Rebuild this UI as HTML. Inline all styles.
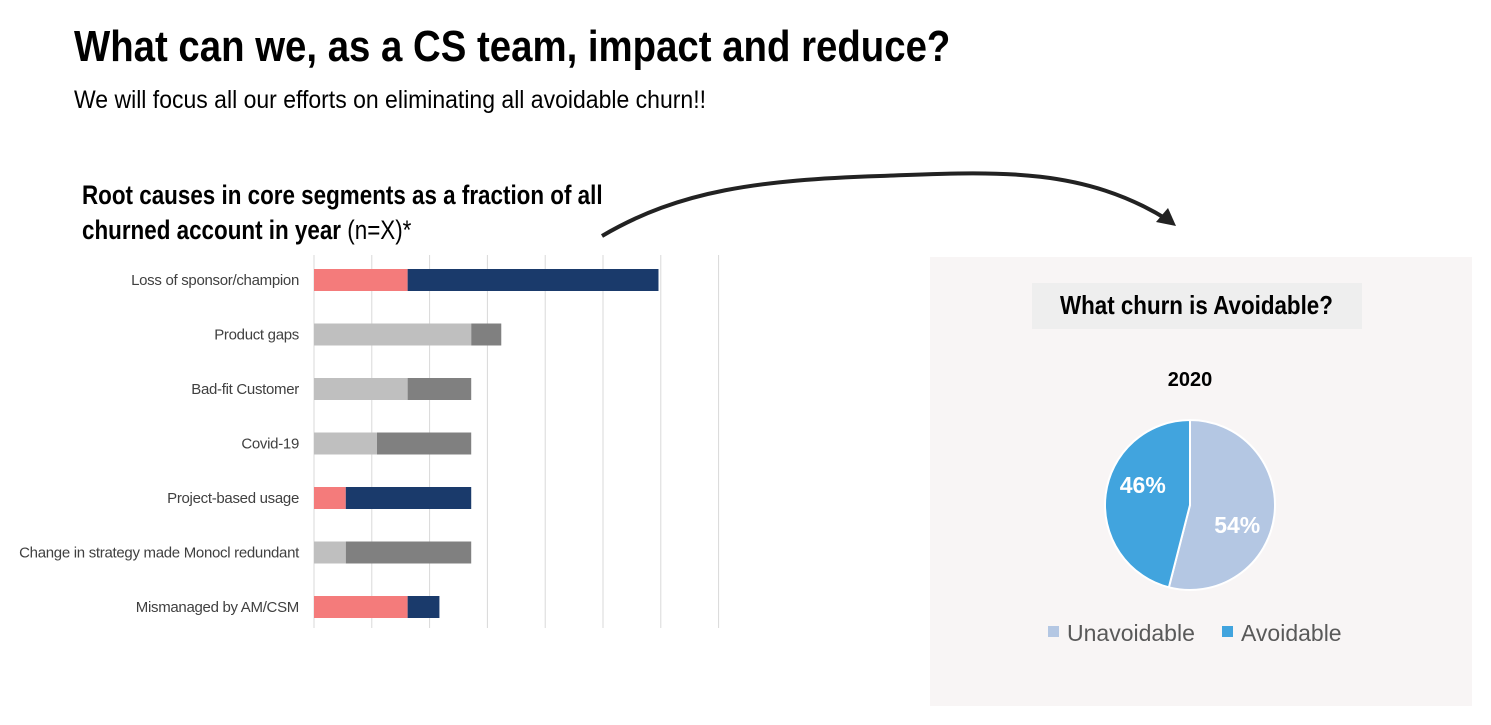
<!DOCTYPE html>
<html><head><meta charset="utf-8"><style>
body{margin:0;width:1491px;height:725px;background:#fff;overflow:hidden;position:relative;font-family:"Liberation Sans Narrow","Liberation Sans",sans-serif}
.t{position:absolute;white-space:nowrap;transform-origin:0 0}
</style></head><body>
<div class="t" style="left:74px;top:22px;font-size:44px;font-weight:bold;transform:scaleX(0.872)">What can we, as a CS team, impact and reduce?</div>
<div class="t" style="left:74px;top:86px;font-size:25px;transform:scaleX(0.92)">We will focus all our efforts on eliminating all avoidable churn!!</div>
<div class="t" style="left:82px;top:178px;font-size:27px;font-weight:bold;line-height:35px;transform:scaleX(0.83)">Root causes in core segments as a fraction of all<br>churned account in year <span style="font-weight:normal">(n=X)*</span></div>
<div style="position:absolute;left:930px;top:257px;width:542px;height:449px;background:#f8f5f5"></div>
<div style="position:absolute;left:1032px;top:283px;width:330px;height:46px;background:#eeeeee"></div>
<div class="t" style="left:1060px;top:290px;font-size:26px;font-weight:bold;transform:scaleX(0.86)">What churn is Avoidable?</div>
<svg id="svg" width="1491" height="725" style="position:absolute;left:0;top:0">
<path d="M602 236 C680 190 760 180 880 176 C990 172 1080 165 1168 220" fill="none" stroke="#222" stroke-width="4"/>
<path d="M1176 226 L1156 222 L1168 208 Z" fill="#222"/>
</svg>
<script>
const categories=["Loss of sponsor/champion","Product gaps","Bad-fit Customer","Covid-19","Project-based usage","Change in strategy made Monocl redundant","Mismanaged by AM/CSM"];
const firstSeg=[1.62,2.72,1.62,1.09,0.55,0.55,1.62];
const secondSeg=[4.34,0.52,1.10,1.63,2.17,2.17,0.55];
const avoidable=[true,false,false,false,true,false,true];
const gridTicks=[0,1,2,3,4,5,6,7];
const pieLabels=["Unavoidable","Avoidable"];
const pieValues=[54,46];
const NS="http://www.w3.org/2000/svg",svg=document.getElementById('svg');
const FF='Liberation Sans Narrow,Liberation Sans,sans-serif';
const x0=314,unit=57.8,yTop=255,yBot=628,band=54.5,y1=280;
const xs=v=>x0+v*unit;
function mk(t,a){const e=document.createElementNS(NS,t);for(const k in a)e.setAttribute(k,a[k]);svg.appendChild(e);return e;}
gridTicks.forEach(g=>{const l=mk('line',{x1:xs(g),x2:xs(g),y1:yTop,y2:yBot,stroke:'#d9d9d9','stroke-width':1});

});
categories.forEach((c,i)=>{const cy=y1+i*band;
const a=mk('rect',{x:xs(0),y:cy-11,width:firstSeg[i]*unit,height:22,fill:avoidable[i]?'#f47b7b':'#bfbfbf'});


const b=mk('rect',{x:xs(firstSeg[i]),y:cy-11,width:secondSeg[i]*unit,height:22,fill:avoidable[i]?'#1a3a6b':'#808080'});


const t=mk('text',{x:299,y:cy+5,'text-anchor':'end','font-size':15,fill:'#404040','font-family':FF,'letter-spacing':'-0.3'});t.textContent=c;

});
const cx=1190,cy=505,r=85,pc=['#b4c7e3','#41a4de'];let ang=0;const tot=pieValues.reduce((s,v)=>s+v,0);
pieValues.forEach((v,i)=>{const a0=ang,a1=ang+v/tot*2*Math.PI;ang=a1;
const p=(a)=>[cx+r*Math.sin(a),cy-r*Math.cos(a)];const [sx,sy]=p(a0),[ex,ey]=p(a1);
const s=mk('path',{d:`M${cx} ${cy} L${sx} ${sy} A${r} ${r} 0 ${a1-a0>Math.PI?1:0} 1 ${ex} ${ey} Z`,fill:pc[i],stroke:'#fff','stroke-width':2});


const m=(a0+a1)/2;const lx=cx+r*0.56*Math.sin(m),ly=cy-r*0.55*Math.cos(m)-14*Math.sign(Math.cos(m));
const t=mk('text',{x:lx,y:ly+8,'text-anchor':'middle','font-size':23,'font-weight':'bold',fill:'#fff','font-family':FF});t.textContent=v+'%';


const lgx=[1048,1222][i];
const sq=mk('rect',{x:lgx,y:626,width:11,height:11,fill:pc[i]});


const lt=mk('text',{x:lgx+19,y:641,'font-size':23,fill:'#595959','font-family':FF});lt.textContent=pieLabels[i];

});
const yr=mk('text',{x:1190,y:386,'text-anchor':'middle','font-size':20,'font-weight':'bold',fill:'#000','font-family':FF});yr.textContent='2020';


</script>
</body></html>
